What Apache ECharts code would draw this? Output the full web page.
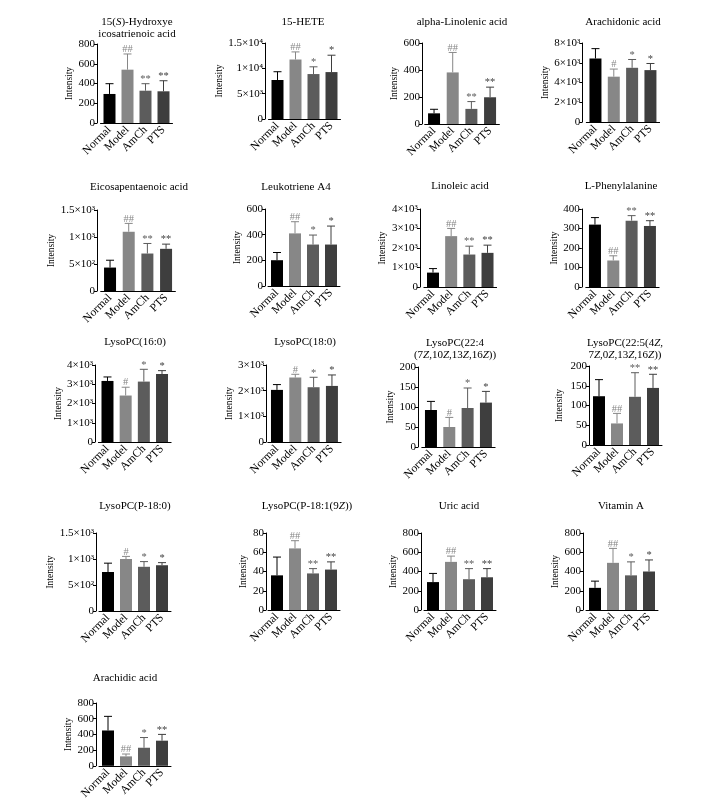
<!DOCTYPE html>
<html><head><meta charset="utf-8">
<script src="https://cdn.jsdelivr.net/npm/echarts@6/dist/echarts.min.js"></script>
<style>html,body{margin:0;padding:0;background:#fff}#c{width:721px;height:802px}</style>
</head><body><div id="c"></div>
<script>
const groups = ['Normal', 'Model', 'AmCh', 'PTS'];
const panelTitles = [
  '15({i|S})-Hydroxye\nicosatrienoic acid',
  '15-HETE',
  'alpha-Linolenic acid',
  'Arachidonic acid',
  'Eicosapentaenoic acid',
  'Leukotriene A4',
  'Linoleic acid',
  'L-Phenylalanine',
  'LysoPC(16:0)',
  'LysoPC(18:0)',
  'LysoPC(22:4\n(7{i|Z},10{i|Z},13{i|Z},16{i|Z}))',
  'LysoPC(22:5(4{i|Z},\n7{i|Z},0{i|Z},13{i|Z},16{i|Z}))',
  'LysoPC(P-18:0)',
  'LysoPC(P-18:1(9{i|Z}))',
  'Uric acid',
  'Vitamin A',
  'Arachidic acid'
];
const meanValues = [
  [294, 540, 327, 321],
  [7700, 11740, 8870, 9260],
  [79, 382, 112, 198],
  [6430, 4590, 5490, 5255],
  [434, 1097, 694, 781],
  [201, 410, 323, 323],
  [738, 2609, 1665, 1751],
  [320, 136, 340, 313],
  [3172, 2414, 3138, 3534],
  [2030, 2509, 2134, 2185],
  [92.5, 50, 97.5, 111],
  [123.5, 54.6, 122, 144.5],
  [750, 1000, 850, 880],
  [36, 64, 38, 42],
  [290, 500, 320, 340],
  [230, 490, 360, 400],
  [450, 120, 230, 320]
];
const errorTops = [
  [398, 699, 398, 428],
  [9330, 13240, 10300, 12590],
  [109, 530, 166, 273],
  [7430, 5360, 6330, 5925],
  [570, 1252, 880, 868],
  [261, 501, 397, 467],
  [944, 3004, 2094, 2146],
  [356, 160, 366, 340],
  [3379, 2845, 3776, 3707],
  [2237, 2638, 2522, 2612],
  [114, 74, 147.5, 139],
  [165.5, 80, 183, 179],
  [920, 1050, 950, 930],
  [55, 72, 43, 50],
  [380, 560, 430, 430],
  [300, 640, 500, 520],
  [630, 150, 360, 400]
];
const sigMarks = [
  ['', '##', '**', '**'],
  ['', '##', '*', '*'],
  ['', '##', '**', '**'],
  ['', '#', '*', '*'],
  ['', '##', '**', '**'],
  ['', '##', '*', '*'],
  ['', '##', '**', '**'],
  ['', '##', '**', '**'],
  ['', '#', '*', '*'],
  ['', '#', '*', '*'],
  ['', '#', '*', '*'],
  ['', '##', '**', '**'],
  ['', '#', '*', '*'],
  ['', '##', '**', '**'],
  ['', '##', '**', '**'],
  ['', '##', '*', '*'],
  ['', '##', '*', '**']
];
const yMax = [800, 15000, 600, 8000, 1500, 600, 4000, 400, 4000, 3000, 200, 200, 1500, 80, 800, 800, 800];
const yStep = [200, 5000, 200, 2000, 500, 200, 1000, 100, 1000, 1000, 50, 50, 500, 20, 200, 200, 200];
const yTickLabels = [
  ['0', '200', '400', '600', '800'],
  ['0', '5×10³', '1×10⁴', '1.5×10⁴'],
  ['0', '200', '400', '600'],
  ['0', '2×10³', '4×10³', '6×10³', '8×10³'],
  ['0', '5×10²', '1×10³', '1.5×10³'],
  ['0', '200', '400', '600'],
  ['0', '1×10³', '2×10³', '3×10³', '4×10³'],
  ['0', '100', '200', '300', '400'],
  ['0', '1×10³', '2×10³', '3×10³', '4×10³'],
  ['0', '1×10³', '2×10³', '3×10³'],
  ['0', '50', '100', '150', '200'],
  ['0', '50', '100', '150', '200'],
  ['0', '5×10²', '1×10³', '1.5×10³'],
  ['0', '20', '40', '60', '80'],
  ['0', '200', '400', '600', '800'],
  ['0', '200', '400', '600', '800'],
  ['0', '200', '400', '600', '800']
];
const barColors = ['#000000', '#878787', '#5c5c5c', '#3e3e3e'];

// layout: [gridLeft, gridTop, gridWidth, gridHeight, axisOffset, nameGap, titleX, titleY]
const layout = [
  [100.5, 44, 72, 79, 3.5, 22, 137, 28],
  [268.5, 43, 72, 76, 3.5, 31.5, 303, 22],
  [424.7, 43, 74.7, 81, 2.7, 22, 462, 22],
  [586.3, 43, 73.3, 79, 4, 30, 623, 22],
  [100.7, 210, 74.7, 81, 3.7, 31.5, 139, 187],
  [268, 209, 72, 77, 3, 21, 296, 187],
  [423.9, 209, 72.7, 78, 4, 30.5, 460, 186],
  [585.8, 209, 73.3, 78, 4, 22, 621, 186],
  [98.4, 365, 72.7, 77, 3.4, 29, 135, 342],
  [267.8, 365, 73.3, 77, 1.8, 31.5, 305, 342],
  [421.8, 367, 73.3, 80, 3.8, 20, 455, 349],
  [590, 366, 72, 79, 1, 25, 625, 349],
  [99, 533, 72, 78, 3, 31, 135, 506],
  [268, 533, 72, 77, 2, 18, 307, 506],
  [424, 533, 72, 77, 3, 22, 459, 506],
  [586, 533, 72, 77, 3, 22, 621, 506],
  [99, 703, 72, 76, 3, 22, 125, 678]
];

const FONT = '"Liberation Serif", "Times New Roman", serif';
const grids = [], xAxes = [], yAxes = [], series = [], graphics = [];

panelTitles.forEach((t, k) => {
  const L = layout[k];
  grids.push({ left: L[0], top: L[1], width: L[2], height: L[3], containLabel: false });
  xAxes.push({
    type: 'category', gridIndex: k, data: groups,
    axisLine: { lineStyle: { color: '#000', width: 1 } },
    axisTick: { show: false },
    axisLabel: { rotate: 45, fontFamily: FONT, fontSize: 11.5, color: '#000', margin: 5, interval: 0 }
  });
  yAxes.push({
    type: 'value', gridIndex: k, min: 0, max: yMax[k], interval: yStep[k], offset: L[4],
    name: 'Intensity', nameLocation: 'middle', nameGap: L[5],
    nameTextStyle: { fontFamily: FONT, fontSize: 9.5, color: '#000' },
    axisLine: { show: true, lineStyle: { color: '#000', width: 1 } },
    axisTick: { show: true, length: 3, lineStyle: { color: '#000' } },
    splitLine: { show: false },
    axisLabel: {
      fontFamily: FONT, fontSize: 11, color: '#000', margin: 2,
      formatter: (v) => yTickLabels[k][Math.round(v / yStep[k])]
    }
  });
  series.push({
    type: 'bar', xAxisIndex: k, yAxisIndex: k, barWidth: 12, z: 2,
    data: meanValues[k].map((v, i) => ({ value: v, itemStyle: { color: barColors[i] } })),
    silent: true
  });
  series.push({
    type: 'custom', xAxisIndex: k, yAxisIndex: k, z: 3, silent: true,
    data: meanValues[k].map((v, i) => [i, v, errorTops[k][i]]),
    renderItem: (params, api) => {
      const i = api.value(0);
      const p0 = api.coord([i, api.value(1)]);
      const p1 = api.coord([i, api.value(2)]);
      const c = barColors[i];
      const cap = 4;
      const kids = [
        { type: 'line', shape: { x1: p0[0], y1: p0[1], x2: p1[0], y2: p1[1] }, style: { stroke: c, lineWidth: 1 } },
        { type: 'line', shape: { x1: p1[0] - cap, y1: p1[1], x2: p1[0] + cap, y2: p1[1] }, style: { stroke: c, lineWidth: 1 } }
      ];
      const m = sigMarks[k][i];
      if (m) {
        kids.push({ type: 'text', style: { text: m, x: p1[0], y: p1[1] + 1, align: 'center', verticalAlign: 'bottom', textAlign: 'center', textVerticalAlign: 'bottom', fill: c, fontSize: 10.5, fontFamily: FONT } });
      }
      return { type: 'group', children: kids };
    }
  });
  graphics.push({
    type: 'text', x: L[6], y: L[7],
    style: {
      text: t, align: 'center', verticalAlign: 'middle', textAlign: 'center', textVerticalAlign: 'middle',
      fontFamily: FONT, fontSize: 11, fill: '#000', lineHeight: 12,
      rich: { i: { fontStyle: 'italic', fontFamily: FONT, fontSize: 11, lineHeight: 12 } }
    }
  });
});

const chart = echarts.init(document.getElementById('c'), null, { renderer: 'canvas' });
chart.setOption({
  backgroundColor: '#fff',
  animation: false,
  grid: grids, xAxis: xAxes, yAxis: yAxes, series: series, graphic: graphics
});
</script></body></html>
